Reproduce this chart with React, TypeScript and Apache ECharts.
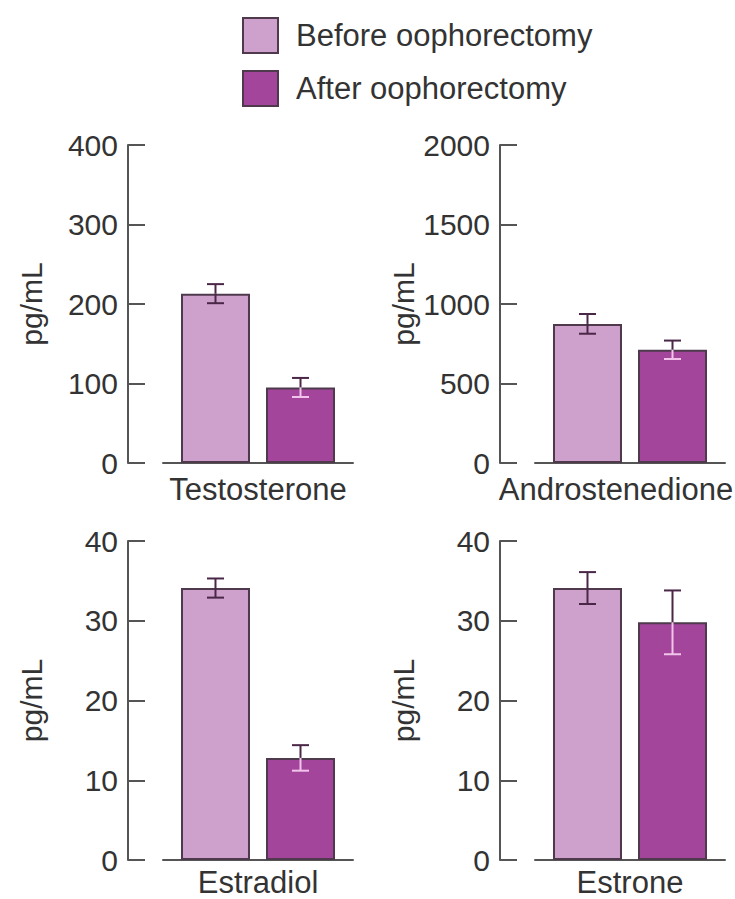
import React, { useEffect, useRef } from "react";
import * as echarts from "echarts";

const categories = ["Testosterone", "Androstenedione", "Estradiol", "Estrone"];
const beforeValues = [213, 875, 34.1, 34.1];
const beforeErrors = [12, 62, 1.2, 2];
const afterValues = [95, 712, 12.8, 29.8];
const afterErrors = [12, 58, 1.6, 4];
const yMaxes = [400, 2000, 40, 40];
const yIntervals = [100, 500, 10, 10];
const seriesNames = ["Before oophorectomy", "After oophorectomy"];

const FONT = "'Liberation Sans', Arial, Helvetica, sans-serif";
const BEFORE_COLOR = "#cda1cc";
const AFTER_COLOR = "#a3469b";
const BORDER_COLOR = "#4e3a4c";
const ERR_DARK = "#4a2647";
const ERR_LIGHT = "#f2c4ec";
const AXIS_COLOR = "#555555";
const TEXT_COLOR = "#333333";

const BAR_WIDTH = 69;
const BAR_GAP_RATIO = 0.232;
const HALF_PAIR = (BAR_WIDTH * (1 + BAR_GAP_RATIO)) / 2;
const CAP = 8.5;

const gridBoxes = [
  { left: 163, top: 145, width: 190, height: 318 },
  { left: 535, top: 145, width: 190, height: 318 },
  { left: 163, top: 541, width: 190, height: 319 },
  { left: 535, top: 541, width: 190, height: 319 },
];

function renderErr(params: any, api: any) {
  const kind = api.value(3);
  const v = api.value(1);
  const e = api.value(2);
  const c = api.coord([api.value(0), v]);
  const top = api.coord([api.value(0), v + e])[1];
  const bot = api.coord([api.value(0), v - e])[1];
  const x = c[0] + (kind === 0 ? -HALF_PAIR : HALF_PAIR);
  const y = c[1];
  const lower = kind === 0 ? ERR_DARK : ERR_LIGHT;
  const line = (x1: number, y1: number, x2: number, y2: number, stroke: string) => ({
    type: "line",
    shape: { x1, y1, x2, y2 },
    style: { stroke, lineWidth: 2 },
  });
  return {
    type: "group",
    children: [
      line(x, top, x, y, ERR_DARK),
      line(x - CAP, top, x + CAP, top, ERR_DARK),
      line(x, y, x, bot, lower),
      line(x - CAP, bot, x + CAP, bot, lower),
    ],
  };
}

export default function App() {
  const ref = useRef<HTMLDivElement>(null);
  useEffect(() => {
    document.body.style.margin = "0";
    if (!ref.current) return;
    const chart = echarts.init(ref.current, undefined, { renderer: "svg" });
    const grids = gridBoxes.map((g) => ({ ...g, containLabel: false, outerBoundsMode: "none" }));
    const xAxes = categories.map((cat, i) => ({
      gridIndex: i,
      type: "category",
      data: [cat],
      axisLine: { show: true, lineStyle: { color: AXIS_COLOR, width: 2 } },
      axisTick: { show: false },
      axisLabel: {
        fontSize: 31,
        lineHeight: 31,
        color: TEXT_COLOR,
        fontFamily: FONT,
        margin: i >= 2 ? 7 : 11,
        padding: i === 1 ? [0, 28, 0, 0] : 0,
      },
    }));
    const yAxes = categories.map((_, i) => ({
      gridIndex: i,
      type: "value",
      min: 0,
      max: yMaxes[i],
      interval: yIntervals[i],
      offset: 35,
      axisLine: { show: true, lineStyle: { color: AXIS_COLOR, width: 2 } },
      axisTick: { show: true, inside: true, length: 17, lineStyle: { color: AXIS_COLOR, width: 2 } },
      axisLabel: {
        fontSize: 30,
        color: TEXT_COLOR,
        fontFamily: FONT,
        margin: 10,
        formatter: (v: number) => String(v),
      },
      splitLine: { show: false },
      name: "pg/mL",
      nameLocation: "middle",
      nameRotate: 90,
      nameGap: 82,
      nameTextStyle: { fontSize: 30, color: TEXT_COLOR, fontFamily: FONT },
    }));
    const series: any[] = [];
    categories.forEach((_, i) => {
      series.push({
        type: "bar",
        name: seriesNames[0],
        xAxisIndex: i,
        yAxisIndex: i,
        data: [beforeValues[i]],
        barWidth: BAR_WIDTH,
        barGap: `${BAR_GAP_RATIO * 100}%`,
        itemStyle: { color: BEFORE_COLOR, borderColor: BORDER_COLOR, borderWidth: 2 },
      });
      series.push({
        type: "bar",
        name: seriesNames[1],
        xAxisIndex: i,
        yAxisIndex: i,
        data: [afterValues[i]],
        barWidth: BAR_WIDTH,
        barGap: `${BAR_GAP_RATIO * 100}%`,
        itemStyle: { color: AFTER_COLOR, borderColor: BORDER_COLOR, borderWidth: 2 },
      });
      series.push({
        type: "custom",
        xAxisIndex: i,
        yAxisIndex: i,
        z: 10,
        silent: true,
        clip: false,
        encode: { x: 0, y: 1 },
        data: [
          [0, beforeValues[i], beforeErrors[i], 0],
          [0, afterValues[i], afterErrors[i], 1],
        ],
        renderItem: renderErr,
      });
    });
    chart.setOption({
      animation: false,
      textStyle: { fontFamily: FONT },
      legend: {
        data: seriesNames,
        orient: "vertical",
        left: 237,
        top: 12,
        itemWidth: 35,
        itemHeight: 35,
        itemGap: 16,
        icon: "rect",
        selectedMode: false,
        itemStyle: { borderColor: BORDER_COLOR, borderWidth: 2 },
        textStyle: { fontSize: 31, color: TEXT_COLOR, fontFamily: FONT, padding: [0, 0, 0, 13] },
      },
      grid: grids,
      xAxis: xAxes,
      yAxis: yAxes,
      series,
    });
    return () => chart.dispose();
  }, []);
  return <div ref={ref} style={{ width: 735, height: 899 }} />;
}
